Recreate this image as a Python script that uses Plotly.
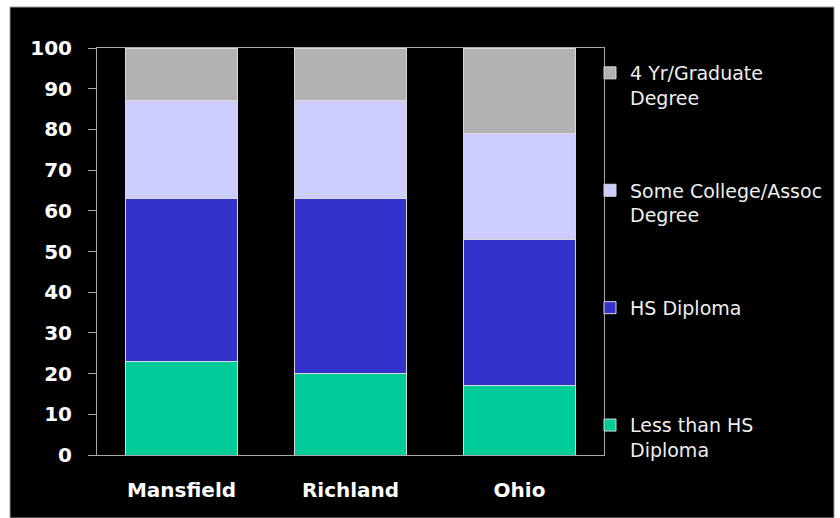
import plotly.graph_objects as go

# Educational attainment shares (percent) by area
areas = ["Mansfield", "Richland", "Ohio"]
less_than_hs = [23, 20, 17]
hs_diploma = [40, 43, 36]
some_college = [24, 24, 26]
four_yr_grad = [13, 13, 21]

# (legend label, values, colour, legend rank) in stacking order, bottom up
series = [
    ("Less than HS<br>Diploma", less_than_hs, "#00CC99", 4),
    ("HS Diploma<br>\u00a0", hs_diploma, "#3333CC", 3),
    ("Some College/Assoc<br>Degree", some_college, "#CCCCFF", 2),
    ("4 Yr/Graduate<br>Degree", four_yr_grad, "#B2B2B2", 1),
]

fig = go.Figure()
for i, (name, vals, color, rank) in enumerate(series):
    fig.add_trace(go.Bar(
        x=areas, y=vals, name=name, legendgroup=f"g{i}", legendrank=rank,
        marker=dict(color=color, line=dict(color="#D8D8D8", width=1)),
    ))

W, H = 840, 518
L, R, T, B = 97, 236, 48, 63
pw, ph = W - L - R, H - T - B


def px_x(x):
    return (x - L) / pw


def px_y(y):
    return (H - B - y) / ph


# black backdrop panel with thin grey frame
fig.add_shape(type="rect", xref="paper", yref="paper",
              x0=px_x(10), x1=px_x(834), y0=px_y(518), y1=px_y(7),
              fillcolor="black", line=dict(color="#9A9A9A", width=1),
              layer="below")

fig.update_layout(
    width=W, height=H,
    margin=dict(l=L, r=R, t=T, b=B),
    paper_bgcolor="white", plot_bgcolor="black",
    barmode="stack", bargap=0.333,
    font=dict(family="DejaVu Sans", color="white"),
    showlegend=True,
    legend=dict(
        x=px_x(590), y=px_y(54), xanchor="left", yanchor="top",
        bgcolor="rgba(0,0,0,0)", traceorder="grouped",
        tracegroupgap=65, valign="top", maxheight=500,
        font=dict(family="DejaVu Sans", size=19, color="#EEEEEE"),
    ),
)
fig.update_xaxes(
    showline=True, mirror=True, linecolor="#A8A8A8", linewidth=1,
    ticks="", showgrid=False,
    tickfont=dict(family="DejaVu Sans", size=20, color="white", weight="bold"),
    ticklabelstandoff=17,
)
fig.update_yaxes(
    range=[0, 100], dtick=10, showline=True, mirror=True,
    linecolor="#A8A8A8", linewidth=1, showgrid=False, zeroline=False,
    ticks="outside", ticklen=8, tickcolor="#A8A8A8",
    tickfont=dict(family="DejaVu Sans", size=20, color="white", weight="bold"),
    ticklabelstandoff=12,
)

fig.write_html("out.html")
